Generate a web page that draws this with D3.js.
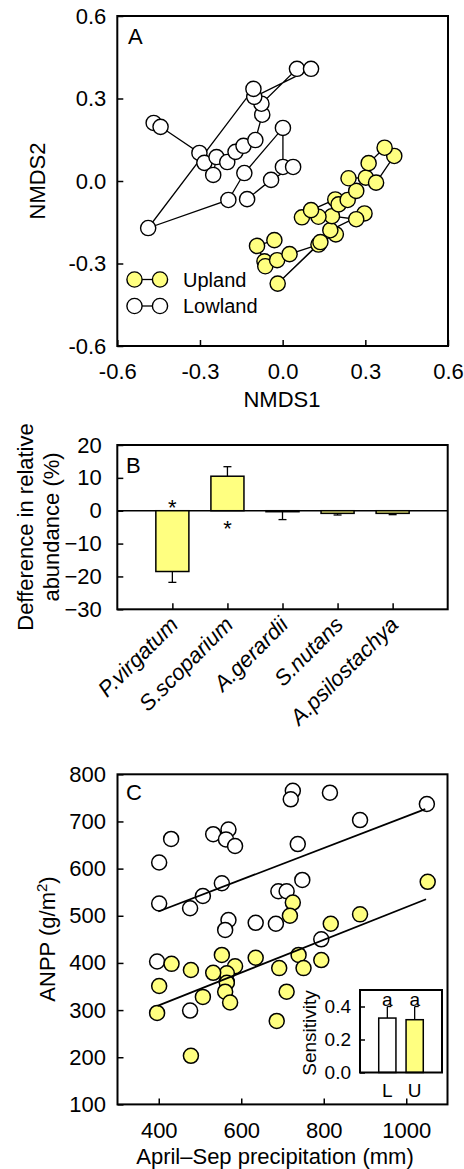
<!DOCTYPE html>
<html>
<head>
<meta charset="utf-8">
<script src="https://cdn.jsdelivr.net/npm/d3@7"></script>
<style>
  body { margin: 0; background: #fff; }
  svg text { font-family: Arial, "Liberation Sans", Helvetica, sans-serif; fill: #000; }
</style>
</head>
<body>
<div id="chart"></div>
<script>
// ---- data ----
// panel A : NMDS scores (ordered as the trajectories are drawn)
var lowlandNMDS1 = [-0.468, -0.443, -0.302, -0.284, -0.252, -0.240, -0.201, -0.171, -0.142, -0.099, -0.074, -0.077,
                    0.052, 0.103, -0.103, -0.106, -0.488, -0.197, -0.139, 0.001, 0.001, 0.038, -0.042, -0.129];
var lowlandNMDS2 = [0.211, 0.197, 0.102, 0.066, 0.022, 0.087, 0.069, 0.106, 0.128, 0.149, 0.241, 0.281,
                    0.408, 0.408, 0.306, 0.335, -0.171, -0.069, 0.029, 0.193, 0.051, 0.051, 0.004, -0.066];
var uplandNMDS1 = [-0.030, -0.093, -0.066, -0.063, -0.020, 0.025, 0.130, -0.018, 0.137, 0.193, 0.173, 0.297, 0.267, 0.179,
                   0.130, 0.070, 0.103, 0.191, 0.203, 0.236, 0.267, 0.239, 0.302, 0.339, 0.405, 0.370, 0.312];
var uplandNMDS2 = [-0.215, -0.236, -0.292, -0.310, -0.288, -0.266, -0.231, -0.373, -0.222, -0.194, -0.179, -0.118, -0.139, -0.128,
                   -0.130, -0.132, -0.106, -0.067, -0.085, -0.069, -0.036, 0.010, 0.012, -0.006, 0.091, 0.121, 0.065];
var nmdsTicks = [-0.6, -0.3, 0, 0.3, 0.6];
var nmdsTickLabels = ["-0.6", "-0.3", "0.0", "0.3", "0.6"];

// panel B : difference in relative abundance (%)
var species = ["P.virgatum", "S.scoparium", "A.gerardii", "S.nutans", "A.psilostachya"];
var diffMean = [-18.5, 10.5, -0.3, -0.8, -0.8];
var diffSE = [3.3, 2.9, 2.4, 0.5, 0.4];
var diffSig = [true, true, false, false, false];
var diffTicks = [-30, -20, -10, 0, 10, 20];

// panel C : ANPP vs April-Sep precipitation
var lowlandPrecip = [725, 720, 815, 1050, 888, 430, 532, 569, 563, 585, 737, 401, 553, 507, 401, 476, 690, 710, 748, 569,
                     561, 635, 684, 794, 396, 476, 565];
var lowlandANPP = [765, 747, 761, 737, 703, 663, 673, 683, 662, 648, 652, 613, 569, 542, 526, 516, 552, 552, 576, 491,
                   470, 485, 483, 450, 403, 299, 360];
var uplandPrecip = [1052, 725, 718, 888, 817, 739, 794, 751, 692, 635, 553, 585, 565, 532, 478, 431, 565, 561, 573, 507,
                    401, 396, 710, 686, 478];
var uplandANPP = [572, 528, 500, 503, 483, 417, 406, 389, 389, 411, 417, 393, 378, 379, 385, 398, 358, 339, 316, 328,
                  351, 294, 339, 277, 203];
// fitted lines [x0, y0, x1, y1]
var lowlandFit = [399, 509, 1046, 726];
var uplandFit = [397, 309, 1048, 535];
var precipTicks = [400, 600, 800, 1000];
var anppTicks = [100, 200, 300, 400, 500, 600, 700, 800];

// inset : sensitivity
var sensGroups = ["L", "U"];
var sensMean = [0.33, 0.32];
var sensSE = [0.07, 0.08];
var sensLetters = ["a", "a"];
var sensTicks = [0, 0.2, 0.4];
var sensTickLabels = ["0.0", "0.2", "0.4"];

var yellow = "#ffff80";
var fs = 22;

var svg = d3.select("#chart").append("svg")
  .attr("width", 464)
  .attr("height", 1169);

function styleAxis(g, size) {
  g.select(".domain").remove();
  g.selectAll(".tick line").attr("stroke", "#000").attr("stroke-width", 1.5);
  g.selectAll(".tick text").attr("font-family", null).style("font-size", size + "px").attr("fill", "#000");
}

function frame(x, y) {
  svg.append("rect")
    .attr("x", x.range()[0]).attr("y", y.range()[1])
    .attr("width", x.range()[1] - x.range()[0])
    .attr("height", y.range()[0] - y.range()[1])
    .attr("fill", "none").attr("stroke", "#000").attr("stroke-width", 2);
}

// ================= panel A =================
var xA = d3.scaleLinear().domain([-0.6, 0.6]).range([117.3, 448]);
var yA = d3.scaleLinear().domain([-0.6, 0.6]).range([346, 16]);

svg.append("g").attr("transform", "translate(117.3,0)")
  .call(d3.axisLeft(yA).tickValues(nmdsTicks).tickFormat(function(d, i) { return nmdsTickLabels[i]; })
    .tickSize(-6).tickPadding(11))
  .call(styleAxis, fs);
svg.append("g").attr("transform", "translate(0,346)")
  .call(d3.axisBottom(xA).tickValues(nmdsTicks).tickFormat(function(d, i) { return nmdsTickLabels[i]; })
    .tickSize(-6).tickPadding(17))
  .call(styleAxis, fs);
frame(xA, yA);

var lineA = d3.line().x(function(d) { return xA(d[0]); }).y(function(d) { return yA(d[1]); });
var lowPts = d3.zip(lowlandNMDS1, lowlandNMDS2);
var upPts = d3.zip(uplandNMDS1, uplandNMDS2);

[[lowPts, "#fff"], [upPts, yellow]].forEach(function(s) {
  svg.append("path").datum(s[0]).attr("d", lineA)
    .attr("fill", "none").attr("stroke", "#000").attr("stroke-width", 1.3);
  svg.append("g").selectAll("circle").data(s[0]).enter().append("circle")
    .attr("cx", function(d) { return xA(d[0]); })
    .attr("cy", function(d) { return yA(d[1]); })
    .attr("r", 7.6)
    .attr("fill", s[1]).attr("stroke", "#000").attr("stroke-width", 1.4);
});

svg.append("text").attr("x", 128).attr("y", 44).style("font-size", "22px").text("A");
svg.append("text").attr("x", 282).attr("y", 407).attr("text-anchor", "middle").style("font-size", "22px").text("NMDS1");
svg.append("text").attr("transform", "translate(45,181) rotate(-90)").attr("text-anchor", "middle")
  .style("font-size", "22px").text("NMDS2");

// legend
[["Upland", yellow, 279.5], ["Lowland", "#fff", 306]].forEach(function(l) {
  svg.append("line").attr("x1", 134.5).attr("x2", 160).attr("y1", l[2]).attr("y2", l[2])
    .attr("stroke", "#000").attr("stroke-width", 1.3);
  [134.5, 160].forEach(function(cx) {
    svg.append("circle").attr("cx", cx).attr("cy", l[2]).attr("r", 7.6)
      .attr("fill", l[1]).attr("stroke", "#000").attr("stroke-width", 1.4);
  });
  svg.append("text").attr("x", 183).attr("y", l[2] + 7.3).style("font-size", "20px").text(l[0]);
});

// ================= panel B =================
var xB = d3.scaleLinear().domain([0, 6]).range([117.3, 447.7]);
var yB = d3.scaleLinear().domain([-30, 20]).range([609.3, 445]);
var barW = 0.6;

svg.append("g").attr("transform", "translate(117.3,0)")
  .call(d3.axisLeft(yB).tickValues(diffTicks).tickSize(-6).tickPadding(15.6))
  .call(styleAxis, fs);
svg.append("g").attr("transform", "translate(0,609.3)")
  .call(d3.axisBottom(xB).tickValues(d3.range(1, species.length + 1)).tickFormat("").tickSize(-6))
  .call(styleAxis, fs);

// zero line
svg.append("line").attr("x1", xB(0)).attr("x2", xB(6)).attr("y1", yB(0)).attr("y2", yB(0))
  .attr("stroke", "#000").attr("stroke-width", 1.5);

species.forEach(function(sp, i) {
  var cx = xB(i + 1), m = diffMean[i], e = diffSE[i];
  var tip = m < 0 ? m - e : m + e;
  svg.append("line").attr("x1", cx).attr("x2", cx).attr("y1", yB(m)).attr("y2", yB(tip))
    .attr("stroke", "#000").attr("stroke-width", 1.3);
  svg.append("line").attr("x1", cx - 4).attr("x2", cx + 4).attr("y1", yB(tip)).attr("y2", yB(tip))
    .attr("stroke", "#000").attr("stroke-width", 1.3);
  svg.append("rect")
    .attr("x", xB(i + 1 - barW / 2)).attr("width", xB(barW) - xB(0))
    .attr("y", yB(Math.max(0, m))).attr("height", Math.abs(yB(m) - yB(0)))
    .attr("fill", yellow).attr("stroke", "#000").attr("stroke-width", 1.5);
  if (diffSig[i]) {
    svg.append("text").attr("x", cx).attr("text-anchor", "middle")
      .attr("y", m < 0 ? yB(0) + 4 : yB(0) + 25)
      .style("font-size", "22px").text("*");
  }
  svg.append("text")
    .attr("transform", "translate(" + (cx + 7) + ",626) rotate(-45)")
    .attr("text-anchor", "end")
    .style("font-size", "22px").style("font-style", "italic")
    .text(sp);
});
frame(xB, yB);

svg.append("text").attr("x", 126).attr("y", 473).style("font-size", "22px").text("B");
svg.append("text").attr("transform", "translate(33,527) rotate(-90)").attr("text-anchor", "middle")
  .style("font-size", "22px").text("Defference in relative");
svg.append("text").attr("transform", "translate(59,527) rotate(-90)").attr("text-anchor", "middle")
  .style("font-size", "22px").text("abundance (%)");

// ================= panel C =================
var xC = d3.scaleLinear().domain([300, 1100]).range([117.5, 447.5]);
var yC = d3.scaleLinear().domain([100, 800]).range([1104.4, 774.3]);

svg.append("g").attr("transform", "translate(117.5,0)")
  .call(d3.axisLeft(yC).tickValues(anppTicks).tickFormat(d3.format("d")).tickSize(-6).tickPadding(11.5))
  .call(styleAxis, fs);
svg.append("g").attr("transform", "translate(0,1104.4)")
  .call(d3.axisBottom(xC).tickValues(precipTicks).tickFormat(d3.format("d")).tickSize(-6).tickPadding(18))
  .call(styleAxis, fs);

[[d3.zip(lowlandPrecip, lowlandANPP), "#fff"], [d3.zip(uplandPrecip, uplandANPP), yellow]].forEach(function(s) {
  svg.append("g").selectAll("circle").data(s[0]).enter().append("circle")
    .attr("cx", function(d) { return xC(d[0]); })
    .attr("cy", function(d) { return yC(d[1]); })
    .attr("r", 7.5)
    .attr("fill", s[1]).attr("stroke", "#000").attr("stroke-width", 1.5);
});
[lowlandFit, uplandFit].forEach(function(f) {
  svg.append("line").attr("x1", xC(f[0])).attr("y1", yC(f[1])).attr("x2", xC(f[2])).attr("y2", yC(f[3]))
    .attr("stroke", "#000").attr("stroke-width", 1.8);
});
frame(xC, yC);

svg.append("text").attr("x", 126).attr("y", 800).style("font-size", "22px").text("C");
svg.append("text").attr("x", 275).attr("y", 1164).attr("text-anchor", "middle").style("font-size", "22px")
  .text("April\u2013Sep precipitation (mm)");
var yt = svg.append("text").attr("transform", "translate(55,939) rotate(-90)").attr("text-anchor", "middle")
  .style("font-size", "22px");
yt.append("tspan").text("ANPP (g/m");
yt.append("tspan").attr("dy", -8).style("font-size", "15px").text("2");
yt.append("tspan").attr("dy", 8).text(")");

// ---- inset ----
var xI = d3.scaleLinear().domain([0, 3]).range([360, 442]);
var yI = d3.scaleLinear().domain([0, 0.5]).range([1072.5, 990]);
var insetW = 0.63;

svg.append("rect").attr("x", 360).attr("y", 990).attr("width", 82).attr("height", 82.5).attr("fill", "#fff");
svg.append("g").attr("transform", "translate(360,0)")
  .call(d3.axisLeft(yI).tickValues(sensTicks).tickFormat(function(d, i) { return sensTickLabels[i]; })
    .tickSize(-5).tickPadding(9))
  .call(styleAxis, 19);

sensGroups.forEach(function(g, i) {
  var cx = xI(i + 1), m = sensMean[i], tip = m + sensSE[i];
  svg.append("line").attr("x1", cx).attr("x2", cx).attr("y1", yI(m)).attr("y2", yI(tip))
    .attr("stroke", "#000").attr("stroke-width", 1.3);
  svg.append("line").attr("x1", cx).attr("x2", cx + 4).attr("y1", yI(tip)).attr("y2", yI(tip))
    .attr("stroke", "#000").attr("stroke-width", 1.3);
  svg.append("rect").attr("x", xI(i + 1 - insetW / 2)).attr("width", xI(insetW) - xI(0))
    .attr("y", yI(m)).attr("height", yI(0) - yI(m))
    .attr("fill", i === 0 ? "#fff" : yellow).attr("stroke", "#000").attr("stroke-width", 1.5);
  svg.append("text").attr("x", cx).attr("y", 1006).attr("text-anchor", "middle").style("font-size", "19px")
    .text(sensLetters[i]);
  svg.append("text").attr("x", cx).attr("y", 1097).attr("text-anchor", "middle").style("font-size", "19px")
    .text(g);
});
frame(xI, yI);
svg.append("text").attr("transform", "translate(316,1033) rotate(-90)").attr("text-anchor", "middle")
  .style("font-size", "19px").text("Sensitivity");
</script>
</body>
</html>
